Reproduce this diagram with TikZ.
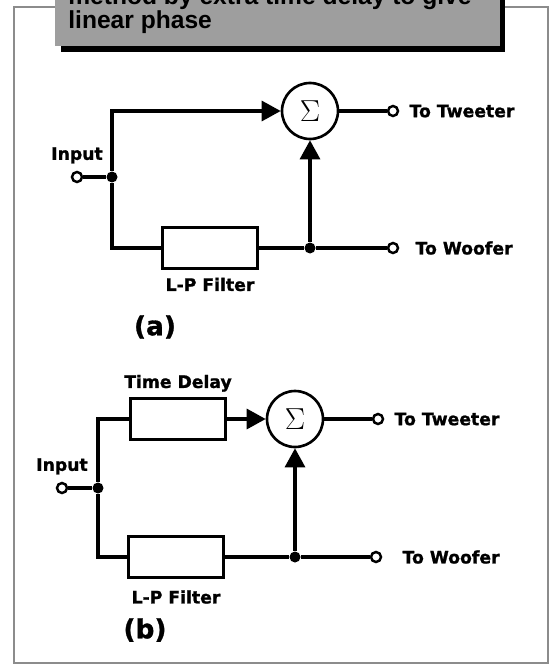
\documentclass[tikz,border=0pt]{standalone}
\usepackage{fontspec}
\setmainfont{DejaVu Sans}[BoldFeatures={FakeBold=1.2}]
\newfontfamily\headfont{Liberation Sans}
\usetikzlibrary{arrows.meta,positioning}

\begin{document}
\begin{tikzpicture}[
  x=0.02cm, y=-0.02cm,
  every node/.style={font=\bfseries\fontsize{9.8}{11}\selectfont, inner sep=0pt},
  wire/.style={line width=1.8pt},
  sig/.style={wire, -{Triangle[length=0.38cm,width=0.4cm]}},
  blk/.style={draw, line width=1.7pt, minimum width=1.9cm, minimum height=0.82cm},
  sumnode/.style={circle, draw, line width=1.5pt, minimum size=1.12cm,
    font=\fontsize{18}{20}\selectfont},
  term/.style={circle, draw, line width=1.4pt, minimum size=0.2cm, fill=white},
  junc/.style={circle, fill, minimum size=0.22cm},
  tag/.style={font=\bfseries\fontsize{15}{17}\selectfont},
  head/.style={font=\headfont\bfseries\fontsize{14}{16}\selectfont, anchor=base west}
]
  \useasboundingbox (0,0) rectangle (552,669);

  % frame and heading
  \draw[black!45, line width=0.9pt] (14,7) rectangle (548,663);
  \fill (61,-10) rectangle (505,52);
  \fill[black!38] (55,-10) rectangle (500,46);
  \node[head] (hdTop) at (68,5) {method by extra time delay to give};
  \node[head] (hdBot) at (68,29) {linear phase};

  % (a)
  \node[term] (inA) at (77,177) {};
  \node[junc] (jA) at (112,177) {};
  \node[sumnode] (sumA) at (310,111) {$\Sigma$};
  \node[blk] (lpA) at (210,248) {};
  \node[junc] (oA) at (310,248) {};
  \node[term] (twA) at (393,111) {};
  \node[term] (wfA) at (393,248) {};
  \node[above=0.14cm of inA] (inAl) {Input};
  \node[below=0.15cm of lpA] (lpAl) {L-P Filter};
  \node[right=0.2cm of twA] (twAl) {To Tweeter};
  \node[right=0.32cm of wfA] (wfAl) {To Woofer};
  \node[tag] (capA) at (155,327) {(a)};

  \draw[wire] (inA) -- (jA);
  \draw[sig] (jA) |- (sumA);
  \draw[wire] (jA) |- (lpA);
  \draw[wire] (lpA) -- (oA) -- (wfA);
  \draw[sig] (oA) -- (sumA);
  \draw[wire] (sumA) -- (twA);

  % (b)
  \node[term] (inB) at (62,488) {};
  \node[junc] (jB) at (98,488) {};
  \node[blk] (tdB) at (178,419) {};
  \node[sumnode] (sumB) at (295,419) {$\Sigma$};
  \node[blk] (lpB) at (176,557) {};
  \node[junc] (oB) at (295,557) {};
  \node[term] (twB) at (378,419) {};
  \node[term] (wfB) at (376,557) {};
  \node[above=0.14cm of inB] (inBl) {Input};
  \node[above=0.1cm of tdB] (tdBl) {Time Delay};
  \node[below=0.22cm of lpB] (lpBl) {L-P Filter};
  \node[right=0.2cm of twB] (twBl) {To Tweeter};
  \node[right=0.4cm of wfB] (wfBl) {To Woofer};
  \node[tag] (capB) at (145,630) {(b)};

  \draw[wire] (inB) -- (jB);
  \draw[wire] (jB) |- (tdB);
  \draw[sig] (tdB) -- (sumB);
  \draw[wire] (jB) |- (lpB);
  \draw[wire] (lpB) -- (oB) -- (wfB);
  \draw[sig] (oB) -- (sumB);
  \draw[wire] (sumB) -- (twB);
\end{tikzpicture}
\end{document}
